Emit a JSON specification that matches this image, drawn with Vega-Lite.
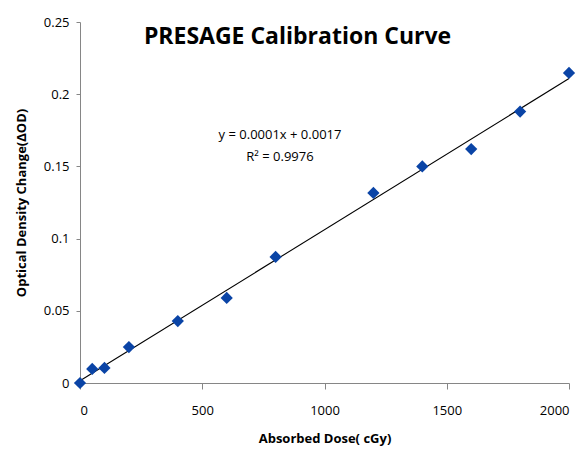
{
  "$schema": "https://vega.github.io/schema/vega-lite/v6.json",
  "autosize": "none",
  "width": 489,
  "height": 361,
  "padding": {"left": 80, "top": 22, "right": 17, "bottom": 68},
  "background": "white",
  "config": {"view": {"stroke": null}, "font": "Open Sans"},
  "title": {"text": "PRESAGE Calibration Curve", "font": "Open Sans", "fontSize": 23, "fontWeight": "bold", "color": "#000000", "anchor": "middle", "dx": -27, "dy": 33, "offset": 0},
  "datasets": {
    "points": [
      {"dose": 0, "od": 0},
      {"dose": 50, "od": 0.0097},
      {"dose": 100, "od": 0.0104},
      {"dose": 200, "od": 0.0249},
      {"dose": 400, "od": 0.0429},
      {"dose": 600, "od": 0.0589},
      {"dose": 800, "od": 0.0873},
      {"dose": 1200, "od": 0.1316},
      {"dose": 1400, "od": 0.150},
      {"dose": 1600, "od": 0.162},
      {"dose": 1800, "od": 0.188},
      {"dose": 2000, "od": 0.2147}
    ],
    "notes": [
      {"dose": 818, "od": 0.1717, "label": "y = 0.0001x + 0.0017"},
      {"dose": 818, "od": 0.1565, "label": "R² = 0.9976"}
    ]
  },
  "layer": [
    {
      "data": {"name": "points"},
      "transform": [{"regression": "od", "on": "dose", "extent": [0, 2000]}],
      "mark": {"type": "line", "color": "#000000", "strokeWidth": 1.1},
      "encoding": {
        "x": {"field": "dose", "type": "quantitative", "scale": {"domain": [0, 2000], "nice": false},
          "axis": {"values": [0, 500, 1000, 1500, 2000], "format": "d", "grid": false, "domainColor": "#868686", "tickColor": "#868686", "tickSize": 6, "labelFontSize": 13, "labelColor": "#000000", "labelPadding": 15, "labelFont": "Open Sans",
            "title": "Absorbed Dose( cGy)", "titleFontSize": 13, "titleFontWeight": "bold", "titleFont": "Open Sans", "titleColor": "#000000", "titlePadding": 15}},
        "y": {"field": "od", "type": "quantitative", "scale": {"domain": [0, 0.25], "nice": false},
          "axis": {"values": [0, 0.05, 0.1, 0.15, 0.2, 0.25], "format": "~g", "grid": false, "domainColor": "#868686", "tickColor": "#868686", "tickSize": 4, "labelFontSize": 13, "labelColor": "#000000", "labelPadding": 7, "labelFont": "Open Sans",
            "title": "Optical Density Change(ΔOD)", "titleFontSize": 13, "titleFontWeight": "bold", "titleFont": "Open Sans", "titleColor": "#000000", "titlePadding": 15}}
      }
    },
    {
      "data": {"name": "points"},
      "mark": {"type": "point", "shape": "diamond", "filled": true, "color": "#0A44A6", "opacity": 1, "size": 150},
      "encoding": {
        "x": {"field": "dose", "type": "quantitative"},
        "y": {"field": "od", "type": "quantitative"}
      }
    },
    {
      "data": {"name": "notes"},
      "mark": {"type": "text", "font": "Open Sans", "fontSize": 13, "color": "#000000", "align": "center", "baseline": "middle"},
      "encoding": {
        "x": {"field": "dose", "type": "quantitative"},
        "y": {"field": "od", "type": "quantitative"},
        "text": {"field": "label"}
      }
    }
  ]
}
